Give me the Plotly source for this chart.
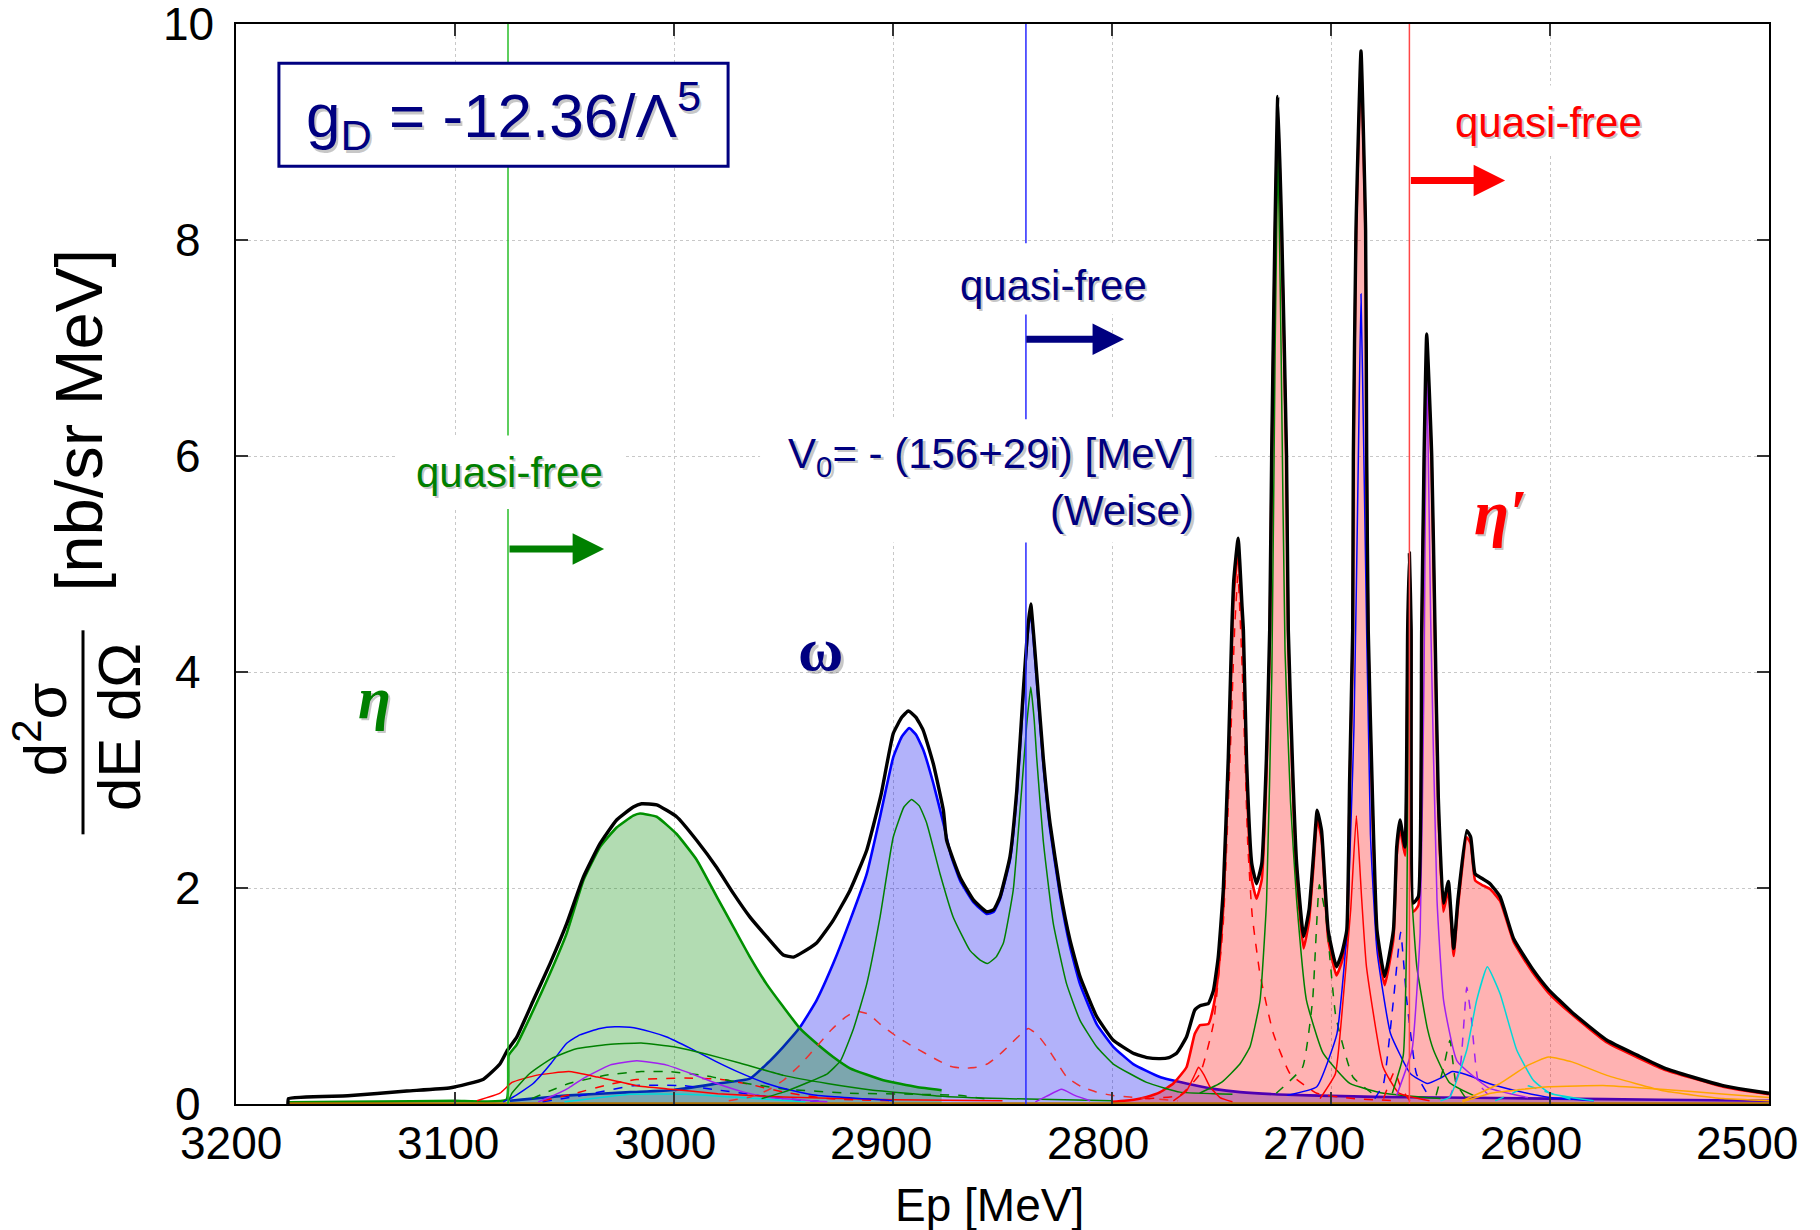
import plotly.graph_objects as go

# ---------------- data (Ep in MeV, cross section in nb/sr MeV) ----------------
total_x = [3176.3, 3176, 3149, 3122, 3102, 3087, 3079.5, 3076, 3071.8, 3064.2, 3056.6, 3049, 3041.4, 3033.8,
           3026.2, 3018.6, 3014.8, 3007.9, 2998.8, 2989.6, 2980.5, 2972.9, 2965.3, 2957.7, 2950.1, 2945.5,
           2942.5, 2934.9, 2927.3, 2919.6, 2912, 2905.5, 2899.9, 2896, 2893, 2889.5, 2886.2, 2881.6, 2877,
           2875.5, 2869.4, 2863.3, 2857.2, 2854, 2851.1, 2846.6, 2843.5, 2840.5, 2838.5, 2837.1, 2835.8,
           2834.4, 2831.4, 2828.3, 2823.7, 2819.2, 2814.6, 2807, 2799.4, 2790.3, 2784, 2778.1, 2774, 2770.5,
           2766, 2762.2, 2759.8, 2756, 2753.7, 2751.5, 2749.2, 2746.9, 2745.3, 2744.4, 2742.4, 2740.6, 2740,
           2738.5, 2736.2, 2734, 2731.6, 2729.5, 2728, 2727.1, 2725.6, 2724.3, 2722.5, 2720.3, 2719.5,
           2717.5, 2715.7, 2712.5, 2710, 2708, 2706.3, 2704.3, 2701.3, 2697.5, 2695, 2692.8, 2691.5, 2690.1,
           2689.8, 2688.6, 2686.3, 2684.2, 2683.7, 2683, 2681, 2679, 2675.5, 2671.5, 2670, 2668.5, 2666.2,
           2665, 2664.2, 2663.4, 2662.4, 2660.1, 2658.6, 2657.5, 2656.3, 2654, 2652.5, 2651, 2648.7, 2646.4,
           2644, 2642, 2638, 2636.2, 2634.2, 2631.2, 2627.4, 2622.8, 2616.6, 2608, 2600.7, 2590, 2574, 2560,
           2548, 2535, 2521, 2510, 2500]
total_y = [0.0, 0.05, 0.076, 0.12, 0.15, 0.23, 0.37, 0.50, 0.62, 0.96, 1.30, 1.67, 2.10, 2.41,
           2.63, 2.75, 2.78, 2.77, 2.66, 2.44, 2.19, 1.95, 1.73, 1.55, 1.38, 1.36,
           1.39, 1.49, 1.70, 1.98, 2.35, 2.86, 3.43, 3.58, 3.64, 3.58, 3.46, 3.15, 2.72,
           2.44, 2.10, 1.89, 1.78, 1.80, 1.92, 2.29, 2.90, 3.83, 4.40, 4.63, 4.35,
           3.99, 3.21, 2.60, 1.98, 1.52, 1.18, 0.81, 0.59, 0.47, 0.43, 0.42, 0.43, 0.47,
           0.62, 0.87, 0.91, 0.93, 1.05, 1.36, 1.98, 3.21, 4.39, 4.85, 5.24, 4.60, 4.39,
           3.15, 2.23, 2.04, 2.23, 3.20, 4.39, 6.0, 8.09, 9.33, 8.09, 6.0, 4.39,
           3.10, 2.23, 1.55, 1.80, 2.30, 2.72, 2.53, 1.61, 1.27, 1.40, 1.61, 3.0, 4.39,
           6.0, 8.09, 9.75, 8.09, 6.0, 4.39, 2.80, 1.61, 1.18, 1.61, 2.38, 2.63, 2.38,
           4.39, 5.10, 4.39, 1.86, 1.92, 4.39, 6.0, 7.13, 6.0, 4.39, 2.84, 1.86, 2.06,
           1.44, 1.90, 2.53, 2.47, 2.13, 2.09, 2.04, 1.92, 1.53, 1.25, 1.06, 0.85, 0.59, 0.45,
           0.335, 0.25, 0.17, 0.13, 0.10]

eta_x = [3176, 3150, 3120, 3100, 3076.5, 3075.5, 3071.8, 3064.2, 3056.6, 3049, 3041.4, 3033.8, 3026.2,
         3018.6, 3015.5, 3007.9, 2998.8, 2989.6, 2980.5, 2972.9, 2965.3, 2957.7, 2950.1, 2942.5, 2934.9,
         2927.3, 2919.6, 2904.4, 2889.2, 2877.8]
eta_y = [0.015, 0.02, 0.025, 0.03, 0.04, 0.45, 0.55, 0.87, 1.21, 1.58, 2.07, 2.38, 2.56,
         2.67, 2.69, 2.66, 2.50, 2.26, 1.92, 1.64, 1.36, 1.11, 0.90, 0.70, 0.56,
         0.435, 0.33, 0.22, 0.157, 0.127]

omega_x = [3075, 3048, 3020, 3000, 2980, 2965.3, 2957.7, 2950.1, 2942.5, 2934.9, 2927.3, 2919.6, 2912,
           2905.9, 2899.9, 2896, 2892.6, 2889.5, 2886.2, 2881.6, 2877, 2873.5, 2869.4, 2863.3, 2857.2, 2854,
           2851.1, 2846.6, 2843.5, 2840.5, 2838.5, 2837.1, 2835.8, 2834.4, 2831.4, 2828.3, 2823.7, 2819.2,
           2814.6, 2807, 2799.4, 2790.3, 2778.1, 2766, 2753.7, 2741.5, 2720, 2700, 2680, 2650, 2600, 2550,
           2500]
omega_y = [0.03, 0.08, 0.11, 0.13, 0.19, 0.235, 0.37, 0.53, 0.71, 0.96, 1.30, 1.70, 2.13,
           2.66, 3.21, 3.40, 3.48, 3.42, 3.28, 2.97, 2.60, 2.30, 2.07, 1.87, 1.76, 1.78,
           1.90, 2.26, 2.86, 3.78, 4.35, 4.58, 4.30, 3.94, 3.16, 2.55, 1.93, 1.46,
           1.11, 0.74, 0.53, 0.37, 0.25, 0.19, 0.14, 0.11, 0.085, 0.075, 0.066, 0.06, 0.05, 0.04,
           0.03]

etap_x = [2800, 2790, 2784.2, 2778, 2772, 2766, 2762.2, 2759.8, 2756, 2753.7, 2751.5, 2749.2, 2746.9,
          2745.3, 2744.4, 2742.4, 2740.6, 2740, 2738.5, 2736.2, 2734, 2731.6, 2729.5, 2728, 2727.1, 2725.6,
          2724.3, 2722.5, 2720.3, 2719.5, 2717.5, 2715.7, 2712.5, 2710, 2708, 2706.3, 2704.3, 2701.3,
          2697.5, 2695, 2692.8, 2691.5, 2690.1, 2689.8, 2688.6, 2686.3, 2684.2, 2683.7, 2683, 2681, 2679,
          2675.5, 2671.5, 2670, 2668.5, 2666.2, 2665, 2664.2, 2663.4, 2662.4, 2660.1, 2658.6, 2657.5,
          2656.3, 2654, 2652.5, 2651, 2648.7, 2646.4, 2644, 2642, 2638, 2636.2, 2634.2, 2631.2, 2627.4,
          2622.8, 2616.6, 2608, 2600.7, 2590, 2574, 2560, 2548, 2535, 2521, 2510, 2500]
etap_y = [0.02, 0.04, 0.065, 0.11, 0.19, 0.34, 0.65, 0.73, 0.74, 0.90, 1.21, 1.82, 3.06,
          4.25, 4.72, 5.12, 4.48, 4.25, 3.00, 2.08, 1.90, 2.08, 3.05, 4.25, 5.9, 8.0,
          9.25, 8.0, 5.9, 4.3, 2.98, 2.12, 1.44, 1.70, 2.20, 2.64, 2.45, 1.53,
          1.19, 1.32, 1.53, 2.9, 4.3, 5.9, 8.0, 9.65, 8.0, 5.9, 4.3, 2.7, 1.53,
          1.10, 1.53, 2.30, 2.55, 2.30, 4.3, 5.0, 4.3, 1.78, 1.84, 4.3, 5.9,
          7.05, 5.9, 4.3, 2.76, 1.78, 1.98, 1.37, 1.83, 2.47, 2.41, 2.07, 2.03, 1.99,
          1.88, 1.50, 1.22, 1.03, 0.83, 0.57, 0.43, 0.32, 0.24, 0.16, 0.12, 0.09]

# component curves
c_green_a_x = [3076, 3074, 3066, 3056, 3045, 3030, 3015, 3000, 2985, 2970, 2950, 2930, 2910, 2880, 2850, 2800]
c_green_a_y = [0.0, 0.10, 0.28, 0.42, 0.51, 0.55, 0.565, 0.53, 0.46, 0.38, 0.265, 0.19, 0.13, 0.075, 0.05, 0.03]
c_blue_a_x = [3078, 3073.4, 3064.3, 3056, 3049.1, 3043, 3033.8, 3027, 3020.1, 3011, 3003.3, 2992, 2980.5,
              2970, 2957.7, 2945, 2934.9, 2900]
c_blue_a_y = [0.02, 0.065, 0.19, 0.38, 0.56, 0.64, 0.70, 0.715, 0.71, 0.67, 0.62, 0.51, 0.39,
              0.29, 0.19, 0.12, 0.08, 0.03]
c_red_a_x = [3090, 3079.5, 3074, 3063, 3048, 3035, 3017, 3003, 2980, 2950, 2900, 2850]
c_red_a_y = [0.03, 0.10, 0.20, 0.265, 0.30, 0.25, 0.17, 0.14, 0.096, 0.065, 0.04, 0.03]
c_purple_a_x = [3062, 3056.6, 3048, 3041.5, 3029.3, 3017, 3003.3, 2992, 2980.5, 2968, 2957.7, 2930]
c_purple_a_y = [0.02, 0.065, 0.15, 0.235, 0.36, 0.40, 0.36, 0.28, 0.19, 0.11, 0.065, 0.02]
c_green_da_x = [3065, 3048, 3030, 3015, 3002, 2985, 2973, 2950, 2920, 2890, 2870, 2855]
c_green_da_y = [0.05, 0.19, 0.27, 0.30, 0.30, 0.26, 0.21, 0.14, 0.10, 0.09, 0.08, 0.04]
c_red_da_x = [3060, 3045, 3030, 3017, 2995, 2979, 2965, 2950, 2930, 2900]
c_red_da_y = [0.03, 0.10, 0.18, 0.226, 0.24, 0.23, 0.18, 0.11, 0.05, 0.03]
c_blue_da_x = [3060, 3041.5, 3018.6, 2995.8, 2979, 2950, 2930]
c_blue_da_y = [0.02, 0.08, 0.17, 0.17, 0.127, 0.05, 0.02]
c_cyan_a_x = [3050, 3020, 2995, 2970, 2940]
c_cyan_a_y = [0.02, 0.09, 0.09, 0.06, 0.02]
c_red_db_x = [2975, 2965, 2957, 2950, 2942, 2935, 2928, 2922, 2916.7, 2911, 2905.9, 2898, 2890.7, 2880,
              2874, 2867.9, 2862, 2857, 2852.6, 2847, 2842, 2838.2, 2834, 2829.8, 2825, 2820.7, 2814,
              2807, 2800, 2792, 2770]
c_red_db_y = [0.03, 0.065, 0.13, 0.22, 0.37, 0.53, 0.69, 0.80, 0.86, 0.83, 0.74, 0.62, 0.53, 0.41,
              0.35, 0.33, 0.34, 0.37, 0.435, 0.54, 0.64, 0.70, 0.64, 0.53, 0.38, 0.25, 0.16,
              0.11, 0.08, 0.065, 0.03]
c_green_b_x = [2960, 2950, 2940, 2930, 2924, 2918, 2912, 2906, 2899.9, 2895, 2891.5, 2888, 2884.6, 2878.5,
               2872.5, 2864.8, 2860, 2856.9, 2853, 2849.6, 2845.1, 2841.3, 2839, 2837.1, 2835.5, 2834.4,
               2831.4, 2826.8, 2820.7, 2814.6, 2807, 2799.4, 2784.2, 2769, 2753.7, 2745]
c_green_b_y = [0.05, 0.11, 0.19, 0.28, 0.40, 0.70, 1.11, 1.72, 2.47, 2.75, 2.82, 2.76, 2.60, 2.13,
               1.73, 1.42, 1.33, 1.30, 1.36, 1.49, 1.98, 2.90, 3.50, 3.86, 3.55, 3.21,
               2.44, 1.67, 1.11, 0.775, 0.53, 0.37, 0.20, 0.11, 0.095, 0.09]
c_purple_b_x = [2835, 2830, 2823, 2817, 2810]
c_purple_b_y = [0.02, 0.07, 0.136, 0.08, 0.03]
c_red_b_x = [2772, 2766, 2762, 2760.5, 2758, 2755.3, 2750.7, 2745]
c_red_b_y = [0.03, 0.12, 0.28, 0.34, 0.27, 0.16, 0.06, 0.02]
c_red_dc_x = [2785, 2769, 2759.8, 2753.7, 2749.2, 2746.1, 2744, 2742.5, 2740.5, 2738, 2736, 2732.4, 2726.3,
              2718.7, 2706.5, 2690, 2670]
c_red_dc_y = [0.05, 0.08, 0.28, 0.74, 1.67, 3.2, 4.4, 4.9, 4.0, 2.4, 1.75, 1.20, 0.65,
              0.28, 0.10, 0.05, 0.03]
c_green_c_x = [2760, 2750, 2741.6, 2737, 2732.4, 2729.4, 2727, 2725.5, 2724.2, 2722.8, 2721, 2718.5,
               2715.7, 2711.2, 2703.6, 2691.4, 2676, 2650]
c_green_c_y = [0.10, 0.20, 0.37, 0.53, 0.96, 1.89, 4.0, 7.0, 8.8, 7.0, 4.2, 2.8,
               1.89, 0.96, 0.47, 0.19, 0.10, 0.05]
c_green_dc_x = [2725, 2713, 2708.4, 2705.3, 2702.3, 2697.8, 2690, 2680]
c_green_dc_y = [0.10, 0.34, 0.96, 2.03, 1.73, 0.81, 0.25, 0.08]
c_blue_c_x = [2720, 2706.5, 2697.3, 2692.8, 2689.5, 2687.5, 2686.3, 2685, 2682, 2679, 2672.8, 2663.7,
              2656, 2650, 2644.6, 2638, 2627.9, 2615, 2600, 2580]
c_blue_c_y = [0.08, 0.16, 0.65, 1.58, 3.5, 6.0, 7.5, 6.0, 2.5, 1.42, 0.65, 0.28,
              0.19, 0.24, 0.30, 0.27, 0.19, 0.12, 0.06, 0.03]
c_red_c_x = [2705, 2698, 2694.5, 2691, 2688.4, 2686, 2683.8, 2676.2, 2669, 2655]
c_red_c_y = [0.05, 0.28, 0.96, 1.80, 2.67, 1.90, 1.27, 0.34, 0.10, 0.03]
c_blue_dc_x = [2680, 2676, 2671.5, 2668.2, 2665.4, 2661, 2655]
c_blue_dc_y = [0.05, 0.19, 0.96, 1.59, 0.96, 0.28, 0.06]
c_red_dd_x = [2676, 2671, 2668, 2664]
c_red_dd_y = [0.05, 0.30, 0.15, 0.03]
c_green_d_x = [2672, 2667, 2665.5, 2664.3, 2663, 2660.8, 2656, 2653.2, 2646, 2635]
c_green_d_y = [0.10, 0.45, 1.5, 4.8, 1.9, 1.27, 0.70, 0.50, 0.20, 0.08]
c_purple_c_x = [2670, 2663, 2659.3, 2657.5, 2656.3, 2654.5, 2651.6, 2648.6, 2642.5, 2628, 2610]
c_purple_c_y = [0.08, 0.50, 1.58, 4.0, 6.9, 4.5, 1.89, 0.96, 0.40, 0.15, 0.06]
c_green_dd_x = [2652, 2648.6, 2645.7, 2643, 2638]
c_green_dd_y = [0.08, 0.34, 0.59, 0.20, 0.04]
c_purple_d_x = [2646, 2641, 2638, 2636, 2632.6, 2626]
c_purple_d_y = [0.05, 0.34, 1.08, 0.81, 0.19, 0.04]
c_cyan_b_x = [2650, 2645.7, 2638, 2633.5, 2628.6, 2622.8, 2615.2, 2607.6, 2600, 2580]
c_cyan_b_y = [0.03, 0.065, 0.50, 0.96, 1.27, 1.02, 0.50, 0.22, 0.10, 0.03]
c_cyan_d_x = [2625, 2617, 2610.6, 2603, 2590]
c_cyan_d_y = [0.03, 0.10, 0.17, 0.12, 0.04]
c_orange_a_x = [2640, 2622.8, 2610, 2600.7, 2590, 2574, 2547.7, 2521, 2500]
c_orange_a_y = [0.03, 0.19, 0.36, 0.435, 0.39, 0.265, 0.12, 0.05, 0.03]
c_orange_b_x = [2640, 2627, 2600.7, 2574, 2547.7, 2520, 2500]
c_orange_b_y = [0.02, 0.10, 0.16, 0.17, 0.135, 0.09, 0.06]
c_base_x = [3176, 2500]
c_base_y = [0.006, 0.006]

x_ticks = [3200, 3100, 3000, 2900, 2800, 2700, 2600, 2500]
y_ticks = [0, 2, 4, 6, 8, 10]

# thresholds (quasi-free lines)
thr_eta = 3075.8
thr_omega = 2839.3
thr_etap = 2664.2

# ---------------- figure ----------------
GREEN = "#008000"
NAVY = "#000080"
RED = "#ff0000"
PURPLE = "#a020f0"
CYAN = "#00d8d8"
ORANGE = "#ffa500"
BLUE = "#0000ff"

fig = go.Figure()

def filled(x, y, line_col, fill_col, w=2.6):
    fig.add_trace(go.Scatter(x=x, y=y, mode="lines", fill="tozeroy", fillcolor=fill_col,
                             line=dict(color=line_col, width=w, shape="spline", smoothing=0.4),
                             hoverinfo="skip", showlegend=False))

def comp(x, y, col, dash="solid", w=1.5):
    fig.add_trace(go.Scatter(x=x, y=y, mode="lines",
                             line=dict(color=col, width=w, dash=dash, shape="spline", smoothing=0.4),
                             hoverinfo="skip", showlegend=False))

filled(omega_x, omega_y, BLUE, "rgba(0,0,240,0.30)")
filled(eta_x, eta_y, "#009000", "rgba(0,140,0,0.30)")
filled(etap_x, etap_y, RED, "rgba(255,0,0,0.30)")

comp(c_base_x, c_base_y, "#b07000", w=2)
comp(c_cyan_a_x, c_cyan_a_y, CYAN)
comp(c_blue_da_x, c_blue_da_y, BLUE, "dash")
comp(c_red_da_x, c_red_da_y, RED, "dash")
comp(c_green_da_x, c_green_da_y, GREEN, "dash")
comp(c_purple_a_x, c_purple_a_y, PURPLE)
comp(c_red_a_x, c_red_a_y, RED)
comp(c_blue_a_x, c_blue_a_y, BLUE)
comp(c_green_a_x, c_green_a_y, GREEN)
comp(c_red_db_x, c_red_db_y, "#ee3030", "dash")
comp(c_green_b_x, c_green_b_y, GREEN)
comp(c_purple_b_x, c_purple_b_y, PURPLE)
comp(c_red_b_x, c_red_b_y, RED)
comp(c_red_dc_x, c_red_dc_y, RED, "dash")
comp(c_green_c_x, c_green_c_y, GREEN)
comp(c_green_dc_x, c_green_dc_y, GREEN, "dash")
comp(c_blue_c_x, c_blue_c_y, BLUE)
comp(c_red_c_x, c_red_c_y, RED)
comp(c_blue_dc_x, c_blue_dc_y, BLUE, "dash")
comp(c_red_dd_x, c_red_dd_y, RED, "dash")
comp(c_green_d_x, c_green_d_y, GREEN)
comp(c_purple_c_x, c_purple_c_y, PURPLE)
comp(c_green_dd_x, c_green_dd_y, GREEN, "dash")
comp(c_purple_d_x, c_purple_d_y, PURPLE, "dash")
comp(c_cyan_b_x, c_cyan_b_y, CYAN)
comp(c_cyan_d_x, c_cyan_d_y, CYAN, "dash")
comp(c_orange_a_x, c_orange_a_y, ORANGE)
comp(c_orange_b_x, c_orange_b_y, ORANGE)

fig.add_trace(go.Scatter(x=total_x, y=total_y, mode="lines",
                         line=dict(color="black", width=3.4, shape="spline", smoothing=0.4),
                         hoverinfo="skip", showlegend=False))

# ---------------- shapes ----------------
shapes = []
for xv, col in [(thr_eta, "rgb(40,190,40)"), (thr_omega, "rgb(40,40,255)"), (thr_etap, "rgb(255,70,70)")]:
    shapes.append(dict(type="line", xref="x", yref="paper", x0=xv, x1=xv, y0=0, y1=1,
                       line=dict(color=col, width=1.5), layer="above"))
# white label backgrounds
for (x0, x1, y0, y1) in [(3127.4, 3022.8, 5.51, 6.19), (2880.4, 2774.4, 7.31, 7.97),
                         (2960.7, 2753.0, 5.20, 6.34), (2653.9, 2548.9, 8.79, 9.43)]:
    shapes.append(dict(type="rect", xref="x", yref="y", x0=x0, x1=x1, y0=y0, y1=y1,
                       fillcolor="white", line=dict(width=0), layer="above"))
# g_D box
shapes.append(dict(type="rect", xref="x", yref="y", x0=3180.4, x1=2975.3, y0=8.683, y1=9.636,
                   fillcolor="white", line=dict(color=NAVY, width=3), layer="above"))
# fraction bar of the y title
shapes.append(dict(type="line", xref="paper", yref="paper", x0=-0.0998, x1=-0.0998, y0=0.2497, y1=0.4386,
                   line=dict(color="black", width=3)))

# ---------------- annotations ----------------
ann = []
def txt(x, y, s, size, color, family="Liberation Sans", xref="x", yref="y", shadow=True,
        xanchor="center", style="normal", weight="normal"):
    if shadow:
        ann.append(dict(x=x, y=y, xref=xref, yref=yref, text=s, showarrow=False, xshift=2.5, yshift=-2.5,
                        xanchor=xanchor, yanchor="middle",
                        font=dict(size=size, color="rgba(0,0,0,0.22)", family=family, style=style, weight=weight)))
    ann.append(dict(x=x, y=y, xref=xref, yref=yref, text=s, showarrow=False, xanchor=xanchor, yanchor="middle",
                    font=dict(size=size, color=color, family=family, style=style, weight=weight)))

txt(3077.9, 9.15, "g<sub>D</sub> = -12.36/Λ<sup>5</sup>", 62, NAVY)
txt(3075.3, 5.85, "quasi-free", 42, GREEN)
txt(2826.9, 7.58, "quasi-free", 42, NAVY)
txt(2600.9, 9.09, "quasi-free", 42, RED)
txt(2761.6, 6.00, "V<sub>0</sub>= - (156+29i) [MeV]", 42, NAVY, xanchor="right")
txt(2761.6, 5.50, "(Weise)", 42, NAVY, xanchor="right")
txt(3136.9, 3.76, "η", 60, GREEN, family="Liberation Serif", style="italic", weight="bold")
txt(2932.9, 4.21, "ω", 62, NAVY, family="Liberation Serif", weight="bold")
txt(2622.8, 5.48, "η′", 64, RED, family="Liberation Serif", style="italic", weight="bold")

# arrows
for (xt, xh, yv, col) in [(thr_eta, 3031.9, 5.14, GREEN), (thr_omega + 0.5, 2794.5, 7.08, NAVY),
                          (thr_etap, 2620.5, 8.55, RED)]:
    ann.append(dict(x=xh, y=yv, ax=xt, ay=yv, xref="x", yref="y", axref="x", ayref="y", text="",
                    showarrow=True, arrowhead=2, arrowsize=0.9, arrowwidth=7, arrowcolor=col, standoff=0))

# tick labels (drawn as text so the end labels are not hidden)
x_label_shift = [-5, -7, -9, -12, -14, -17, -19, -22]
for v, sh in zip(x_ticks, x_label_shift):
    ann.append(dict(x=v, y=-0.0364, xref="x", yref="paper", text=str(v), showarrow=False,
                    xanchor="center", yanchor="middle", xshift=sh,
                    font=dict(size=46, color="black", family="Liberation Sans")))
for v in y_ticks:
    ann.append(dict(x=-0.0313, y=v, xref="paper", yref="y", text=str(v), showarrow=False,
                    xanchor="center", yanchor="middle",
                    font=dict(size=46, color="black", family="Liberation Sans")))

# axis titles
ann.append(dict(x=0.4918, y=-0.0935, xref="paper", yref="paper", text="Ep [MeV]", showarrow=False,
                xanchor="center", yanchor="middle",
                font=dict(size=46, color="black", family="Liberation Sans")))
ann.append(dict(x=-0.103, y=0.633, xref="paper", yref="paper", text="[nb/sr MeV]", showarrow=False,
                xanchor="center", yanchor="middle", textangle=-90,
                font=dict(size=67, color="black", family="Liberation Sans")))
ann.append(dict(x=-0.1272, y=0.347, xref="paper", yref="paper", text="d<sup>2</sup>σ", showarrow=False,
                xanchor="center", yanchor="middle", textangle=-90,
                font=dict(size=60, color="black", family="Liberation Sans")))
ann.append(dict(x=-0.0763, y=0.349, xref="paper", yref="paper", text="dE dΩ", showarrow=False,
                xanchor="center", yanchor="middle", textangle=-90,
                font=dict(size=60, color="black", family="Liberation Sans")))

fig.update_layout(
    width=1820, height=1230,
    margin=dict(l=236, r=51, t=24, b=126),
    paper_bgcolor="white", plot_bgcolor="white",
    shapes=shapes, annotations=ann, showlegend=False,
    font=dict(family="Liberation Sans", color="black"),
)
fig.update_xaxes(range=[3200, 2500], tickvals=x_ticks, showticklabels=False,
                 showline=True, linecolor="black", linewidth=2, mirror="allticks",
                 ticks="inside", ticklen=12, tickwidth=1.5, tickcolor="#333333",
                 showgrid=True, gridcolor="#c8c8c8", griddash="dot", gridwidth=1, zeroline=False)
fig.update_yaxes(range=[0, 10], tickvals=y_ticks, showticklabels=False,
                 showline=True, linecolor="black", linewidth=2, mirror="allticks",
                 ticks="inside", ticklen=12, tickwidth=1.5, tickcolor="#333333",
                 showgrid=True, gridcolor="#c8c8c8", griddash="dot", gridwidth=1, zeroline=False)

fig.write_html("out.html")
